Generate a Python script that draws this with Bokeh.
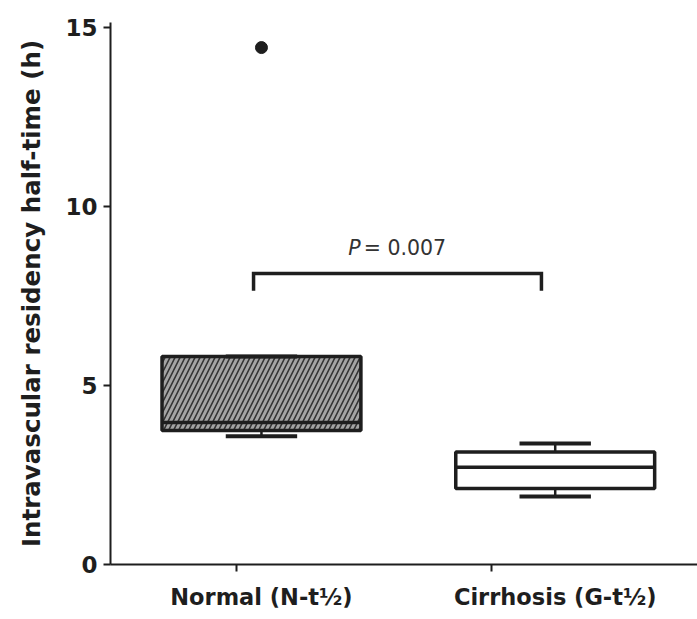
from bokeh.plotting import figure
from bokeh.models import FixedTicker, Label
from bokeh.embed import file_html
from bokeh.resources import INLINE

# ---- data ----
groups = ["Normal (N-t½)", "Cirrhosis (G-t½)"]
q1 = [3.74, 2.12]
median = [3.97, 2.72]
q3 = [5.81, 3.14]
whisker_low = [3.58, 1.90]
whisker_high = [5.81, 3.38]
outlier_group = [0]
outlier_value = [14.44]
y_ticks = [0, 5, 10, 15]
p_text = "= 0.007"
bracket_level = 8.13

# ---- layout constants ----
box_x = [1.098, 2.25]
tick_x = [1.0, 2.0]
box_w = 0.78
cap_w = 0.28
ink = "#1e1e1e"

p = figure(width=697, height=619, x_range=(0.506, 2.808), y_range=(0, 15.14),
           output_backend="svg", toolbar_location=None,
           min_border_left=110, min_border_top=22, min_border_right=0,
           min_border_bottom=55)
p.grid.visible = False
p.outline_line_color = None

# y axis
ya = p.yaxis[0]
ya.ticker = FixedTicker(ticks=y_ticks, minor_ticks=[])
ya.major_tick_out = 7
ya.major_tick_in = 0
ya.axis_line_width = 2
ya.axis_line_color = ink
ya.major_tick_line_width = 2
ya.major_tick_line_color = ink
ya.major_label_text_font = "DejaVu Sans"
ya.major_label_text_font_style = "bold"
ya.major_label_text_font_size = "23px"
ya.major_label_text_color = ink
ya.major_label_standoff = 6
ya.axis_label = "Intravascular residency half-time (h)"
ya.axis_label_text_font = "DejaVu Sans"
ya.axis_label_text_font_style = "bold"
ya.axis_label_text_font_size = "24.5px"
ya.axis_label_text_color = ink
ya.axis_label_standoff = 16

# x axis: labels at box centres, tick marks at the minor positions
xa = p.xaxis[0]
xa.ticker = FixedTicker(ticks=box_x, minor_ticks=tick_x)
xa.major_label_overrides = {box_x[i]: groups[i] for i in range(len(groups))}
xa.major_tick_line_color = None
xa.major_tick_out = 0
xa.major_tick_in = 0
xa.minor_tick_out = 7
xa.minor_tick_in = 0
xa.minor_tick_line_width = 2
xa.minor_tick_line_color = ink
xa.axis_line_width = 2
xa.axis_line_color = ink
xa.major_label_text_font = "DejaVu Sans"
xa.major_label_text_font_style = "bold"
xa.major_label_text_font_size = "22.5px"
xa.major_label_text_color = ink
xa.major_label_standoff = 12

# boxes
lefts = [c - box_w / 2 for c in box_x]
rights = [c + box_w / 2 for c in box_x]

# Normal: hatched grey fill
p.quad(left=[lefts[0]] * 2, right=[rights[0]] * 2,
       bottom=[q1[0], median[0]], top=[median[0], q3[0]],
       fill_color="#a4a4a4", hatch_pattern="/", hatch_color="#333333",
       hatch_scale=10, hatch_weight=1.6, line_color=None)
# Cirrhosis: white fill
p.quad(left=[lefts[1]], right=[rights[1]], bottom=[q1[1]], top=[q3[1]],
       fill_color="white", line_color=None)

# whiskers
for i, c in enumerate(box_x):
    p.segment(x0=[c, c], y0=[q1[i], q3[i]], x1=[c, c],
              y1=[whisker_low[i], whisker_high[i]],
              line_color=ink, line_width=2.5)
    p.segment(x0=[c - cap_w / 2] * 2, x1=[c + cap_w / 2] * 2,
              y0=[whisker_low[i], whisker_high[i]],
              y1=[whisker_low[i], whisker_high[i]],
              line_color=ink, line_width=4)

# box outlines and medians
p.quad(left=lefts, right=rights, bottom=q1, top=q3,
       fill_color=None, line_color=ink, line_width=3.5)
p.segment(x0=lefts, x1=rights, y0=median, y1=median,
          line_color=ink, line_width=3.5)

# outlier
p.scatter(x=[box_x[g] for g in outlier_group], y=outlier_value,
          size=12, color=ink)

# significance bracket
bx0, bx1 = 1.067, 2.196
leg = 0.48
p.line(x=[bx0, bx0, bx1, bx1],
       y=[bracket_level - leg, bracket_level, bracket_level, bracket_level - leg],
       line_color=ink, line_width=3.5, line_join="miter")

p.add_layout(Label(x=1.487, y=bracket_level + 0.72, text="P", text_align="right",
                   text_baseline="alphabetic",
                   text_font="DejaVu Sans", text_font_style="italic",
                   text_font_size="20.5px", text_color="#333333"))
p.add_layout(Label(x=1.499, y=bracket_level + 0.72, text=p_text, text_align="left",
                   text_baseline="alphabetic",
                   text_font="DejaVu Sans", text_font_size="20.5px",
                   text_color="#333333"))

open("out.html", "w").write(file_html(p, INLINE))
